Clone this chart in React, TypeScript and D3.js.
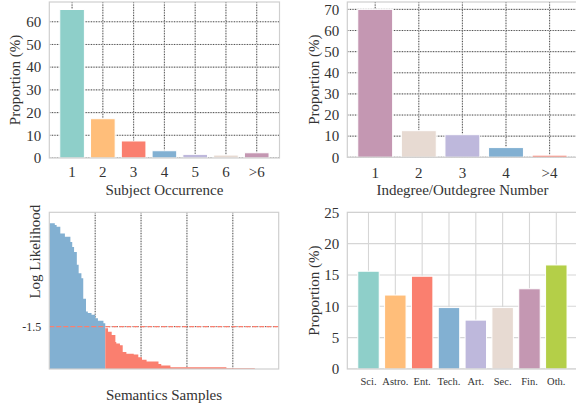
import React from "react";
import * as d3 from "d3";

// ---- data ----
const occurrenceLabels = ["1", "2", "3", "4", "5", "6", ">6"];
const occurrenceValues = [65.4, 17.3, 7.5, 3.2, 1.6, 1.3, 2.3];
const occurrenceColors = ["#8ECFC9", "#FFBE7A", "#FA7F6F", "#82B0D2", "#BEB8DC", "#E7DAD2", "#C497B2"];
const occurrenceTicks = [0, 10, 20, 30, 40, 50, 60];

const degreeLabels = ["1", "2", "3", "4", ">4"];
const degreeValues = [70.0, 12.6, 10.7, 4.6, 1.0];
const degreeColors = ["#C497B2", "#E7DAD2", "#BEB8DC", "#82B0D2", "#FA7F6F"];
const degreeTicks = [0, 10, 20, 30, 40, 50, 60, 70];

// sorted log likelihood of samples, as steps (end index, value)
const sampleStepEnds = [6, 8, 12, 17, 23, 25, 27, 30, 32, 35, 37, 40, 42, 46, 50, 53, 59, 61,
  64, 68, 72, 73, 77, 80, 84, 92, 97, 101, 106, 119, 122, 132, 193, 224];
const sampleStepValues = [-0.28, -0.3, -0.32, -0.4, -0.44, -0.5, -0.56, -0.62, -0.77, -0.87, -0.93,
  -1.17, -1.32, -1.34, -1.36, -1.4, -1.43, -1.46, -1.52, -1.56, -1.6, -1.68, -1.7, -1.72, -1.8,
  -1.82, -1.83, -1.86, -1.89, -1.91, -1.94, -1.96, -1.98, -1.99];
const sampleGridTicks = [50, 100, 150, 200];
const likelihoodThreshold = -1.5;

const domainLabels = ["Sci.", "Astro.", "Ent.", "Tech.", "Art.", "Sec.", "Fin.", "Oth."];
const domainValues = [15.6, 11.8, 14.8, 9.8, 7.8, 9.8, 12.8, 16.6];
const domainColors = ["#8ECFC9", "#FFBE7A", "#FA7F6F", "#82B0D2", "#BEB8DC", "#E7DAD2", "#C497B2", "#B4CF48"];
const domainTicks = [0, 5, 10, 15, 20, 25];

const FONT = "'Liberation Serif', 'Times New Roman', serif";
const TEXT = "#333";
const GRID = "#d6d6d6";
const FRAME = "#cfcfcf";

type Box = { left: number; right: number; top: number; bottom: number };

type BarPanelProps = {
  box: Box;
  labels: string[];
  values: number[];
  colors: string[];
  yMax: number;
  yTicks: number[];
  xLabel?: string;
  yLabel: string;
  yLabelX: number;
  dotted: boolean;
  xTickSize: number;
  xTickY: number;
  xLabelY: number;
};

function BarPanel(p: BarPanelProps) {
  const n = p.labels.length;
  const margin = (n - 1 + 0.8) * 0.05 + 0.4;
  const x = d3.scaleLinear().domain([-margin, n - 1 + margin]).range([p.box.left, p.box.right]);
  const y = d3.scaleLinear().domain([0, p.yMax]).range([p.box.bottom, p.box.top]);
  const idx = d3.range(n);
  return (
    <g>
      <defs>
        <clipPath id={`clip-${p.box.left}-${p.box.top}`}>
          <rect x={p.box.left} y={p.box.top} width={p.box.right - p.box.left} height={p.box.bottom - p.box.top} />
        </clipPath>
      </defs>
      <g clipPath={`url(#clip-${p.box.left}-${p.box.top})`}>
        {idx.map((i) => (
          <g key={"gx" + i}>
            <line x1={x(i)} x2={x(i)} y1={p.box.top} y2={p.box.bottom} stroke={GRID} strokeWidth={1.1} />
            {p.dotted && (
              <line x1={x(i)} x2={x(i)} y1={p.box.top} y2={p.box.bottom} stroke="#333" strokeWidth={0.9} strokeDasharray="1,1.6" />
            )}
          </g>
        ))}
        {p.yTicks.map((t) => (
          <g key={"gy" + t}>
            <line x1={p.box.left} x2={p.box.right} y1={y(t)} y2={y(t)} stroke={GRID} strokeWidth={1.1} />
            {p.dotted && (
              <line x1={p.box.left} x2={p.box.right} y1={y(t)} y2={y(t)} stroke="#333" strokeWidth={0.9} strokeDasharray="1,1.6" />
            )}
          </g>
        ))}
        {idx.map((i) => (
          <rect
            key={"b" + i}
            x={x(i - 0.4)}
            width={x(i + 0.4) - x(i - 0.4)}
            y={y(p.values[i])}
            height={y(0) - y(p.values[i])}
            fill={p.colors[i]}
            stroke="#fff"
            strokeWidth={1}
          />
        ))}
      </g>
      <rect
        x={p.box.left}
        y={p.box.top}
        width={p.box.right - p.box.left}
        height={p.box.bottom - p.box.top}
        fill="none"
        stroke={FRAME}
        strokeWidth={1.2}
      />
      {p.yTicks.map((t) => (
        <text key={"ty" + t} x={p.box.left - 8} y={y(t)} dy="0.35em" textAnchor="end" fontSize={15} fill={TEXT}>
          {t}
        </text>
      ))}
      {idx.map((i) => (
        <text key={"tx" + i} x={x(i)} y={p.xTickY} dy="0.35em" textAnchor="middle" fontSize={p.xTickSize} fill={TEXT}>
          {p.labels[i]}
        </text>
      ))}
      <text
        transform={`translate(${p.yLabelX},${(p.box.top + p.box.bottom) / 2}) rotate(-90)`}
        dy="0.35em"
        textAnchor="middle"
        fontSize={15}
        fill={TEXT}
      >
        {p.yLabel}
      </text>
      {p.xLabel && (
        <text x={(p.box.left + p.box.right) / 2} y={p.xLabelY} dy="0.35em" textAnchor="middle" fontSize={15} fill={TEXT}>
          {p.xLabel}
        </text>
      )}
    </g>
  );
}

function LikelihoodPanel() {
  const box: Box = { left: 49.3, right: 278.7, top: 212.3, bottom: 369 };
  const x = d3.scaleLinear().domain([0, 250]).range([box.left, box.right]);
  const y = d3.scaleLinear().domain([-2, -0.15]).range([box.bottom, box.top]);

  const steps = sampleStepEnds.map((end, i) => ({
    start: i === 0 ? 0 : sampleStepEnds[i - 1],
    end,
    value: sampleStepValues[i],
  }));
  const area = d3
    .area<{ s: number; v: number }>()
    .curve(d3.curveStepAfter)
    .x((d) => x(d.s))
    .y0(y(-2))
    .y1((d) => y(d.v));
  const toPoints = (list: typeof steps) => {
    const pts = list.map((d) => ({ s: d.start, v: d.value }));
    const last = list[list.length - 1];
    pts.push({ s: last.end, v: last.value });
    return pts;
  };
  const above = steps.filter((d) => d.value > likelihoodThreshold);
  const below = steps.filter((d) => d.value <= likelihoodThreshold);

  return (
    <g>
      {sampleGridTicks.map((t) => (
        <g key={t}>
          <line x1={x(t)} x2={x(t)} y1={box.top} y2={box.bottom} stroke={GRID} strokeWidth={1} />
          <line x1={x(t)} x2={x(t)} y1={box.top} y2={box.bottom} stroke="#333" strokeWidth={0.9} strokeDasharray="1,1.6" />
        </g>
      ))}
      <line x1={box.left} x2={box.right} y1={y(likelihoodThreshold)} y2={y(likelihoodThreshold)} stroke="#333" strokeWidth={0.9} strokeDasharray="1,1.6" />
      <path d={area(toPoints(above)) ?? ""} fill="#82B0D2" />
      <path d={area(toPoints(below)) ?? ""} fill="#FA7F6F" />
      <line
        x1={box.left}
        x2={box.right}
        y1={y(likelihoodThreshold)}
        y2={y(likelihoodThreshold)}
        stroke="#FA7F6F"
        strokeWidth={1.2}
        strokeDasharray="5,2"
      />
      <rect x={box.left} y={box.top} width={box.right - box.left} height={box.bottom - box.top} fill="none" stroke={FRAME} strokeWidth={1.2} />
      <text x={box.left - 8} y={y(likelihoodThreshold)} dy="0.35em" textAnchor="end" fontSize={12} fill={TEXT}>
        -1.5
      </text>
      <text transform={`translate(35,251.7) rotate(-90)`} dy="0.35em" textAnchor="middle" fontSize={15} fill={TEXT}>
        Log Likelihood
      </text>
      <text x={(box.left + box.right) / 2} y={394.3} dy="0.35em" textAnchor="middle" fontSize={15} fill={TEXT}>
        Semantics Samples
      </text>
    </g>
  );
}

export default function App() {
  return (
    <svg
      width={576}
      height={410}
      style={{ position: "absolute", left: 0, top: 0, background: "#fff" }}
      fontFamily={FONT}
    >
      <rect width={576} height={410} fill="#fff" />
      <BarPanel
        box={{ left: 49.3, right: 279.5, top: 2, bottom: 158 }}
        labels={occurrenceLabels}
        values={occurrenceValues}
        colors={occurrenceColors}
        yMax={68.7}
        yTicks={occurrenceTicks}
        xLabel="Subject Occurrence"
        yLabel="Proportion (%)"
        yLabelX={15}
        dotted={true}
        xTickSize={15}
        xTickY={172}
        xLabelY={189.5}
      />
      <BarPanel
        box={{ left: 347.3, right: 577.5, top: 2, bottom: 157.3 }}
        labels={degreeLabels}
        values={degreeValues}
        colors={degreeColors}
        yMax={73.5}
        yTicks={degreeTicks}
        xLabel="Indegree/Outdegree Number"
        yLabel="Proportion (%)"
        yLabelX={314}
        dotted={true}
        xTickSize={15}
        xTickY={172.5}
        xLabelY={189.5}
      />
      <LikelihoodPanel />
      <BarPanel
        box={{ left: 347.3, right: 577.5, top: 212.3, bottom: 369 }}
        labels={domainLabels}
        values={domainValues}
        colors={domainColors}
        yMax={25}
        yTicks={domainTicks}
        yLabel="Proportion (%)"
        yLabelX={314}
        dotted={false}
        xTickSize={10.5}
        xTickY={381}
        xLabelY={0}
      />
    </svg>
  );
}
